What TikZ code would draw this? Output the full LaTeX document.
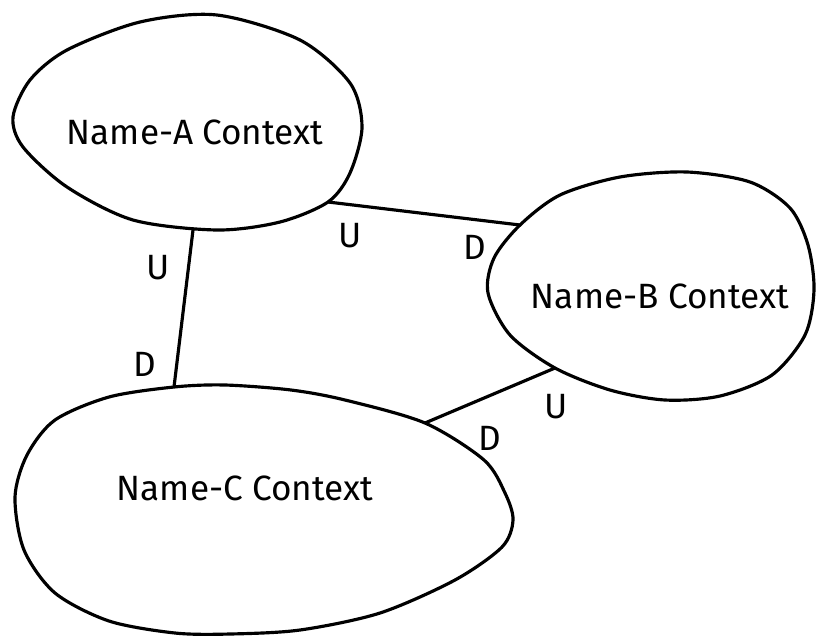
\documentclass[tikz,border=0pt]{standalone}
\usepackage{fontspec}
\setmainfont{Fira Sans}

\tikzset{
  blob/.style={line width=1.8pt},
  rel/.style={line width=1.8pt},
  ctxname/.style={font=\fontsize{20}{24}\selectfont},
  ud/.style={font=\fontsize{20}{24}\selectfont}
}

\begin{document}
\begin{tikzpicture}[x=0.02cm,y=-0.02cm]
\useasboundingbox (0,0) rectangle (820,636);

\draw[blob] plot[smooth cycle] coordinates {(13,117) (30,80) (67,50) (140,22) (217,15) (300,40) (350,83) (362,127) (350,173) (328,202) (280,222) (217,230) (133,220) (67,187) (23,147)};
\node[ctxname] (nameA) at (195,132) {Name-A Context};

\draw[blob] plot[smooth cycle] coordinates {(488,293) (494,258) (520,225) (560,195) (620,177) (687,172) (750,182) (790,208) (808,245) (814,290) (805,335) (772,375) (720,396) (665,400) (610,390) (555,368) (510,335)};
\node[ctxname] (nameB) at (660,296) {Name-B Context};

\draw[blob] plot[smooth cycle] coordinates {(15,497) (27,455) (55,420) (109,397) (174,387) (225,385) (291,390) (345,400) (425,423) (484,460) (505,493) (513,520) (502,547) (455,580) (380,613) (300,630) (230,634) (175,633) (109,621) (55,593) (24,550)};
\node[ctxname] (nameC) at (245,488) {Name-C Context};

\coordinate (ab1) at (328,202);
\coordinate (ab2) at (520,225);
\coordinate (ac1) at (193,230);
\coordinate (ac2) at (174,387);
\coordinate (bc1) at (555,368);
\coordinate (bc2) at (425,423);

\draw[rel] (ab1) -- (ab2);
\draw[rel] (ac1) -- (ac2);
\draw[rel] (bc1) -- (bc2);

\node[ud] (uAB) at (350,236) {U};
\node[ud] (dAB) at (475,247) {D};
\node[ud] (uAC) at (158,268) {U};
\node[ud] (dAC) at (145,364) {D};
\node[ud] (uBC) at (556,407) {U};
\node[ud] (dBC) at (490,438) {D};
\end{tikzpicture}
\end{document}
